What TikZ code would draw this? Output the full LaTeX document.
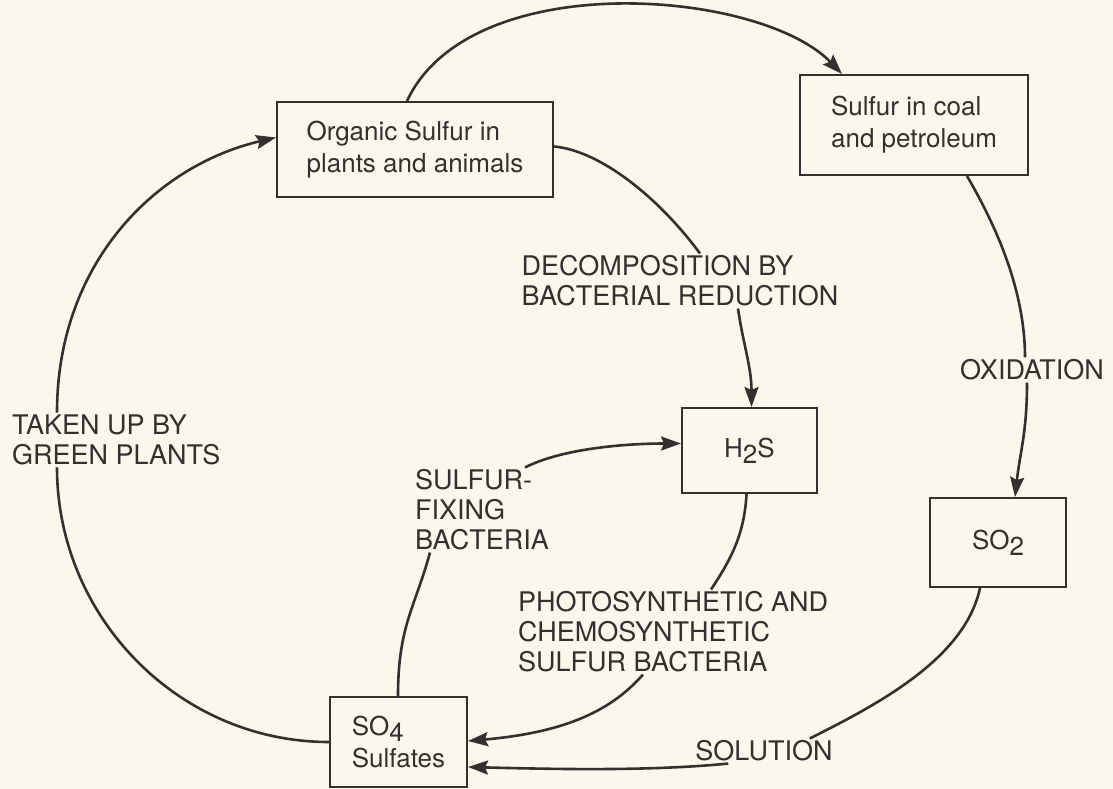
\documentclass[tikz,border=0pt]{standalone}
\usepackage{fontspec}
\setmainfont{TeX Gyre Heros}
\usetikzlibrary{arrows.meta}
\definecolor{paper}{RGB}{251,247,236}
\definecolor{ink}{RGB}{52,48,46}
\newcommand{\lowdigit}[1]{\raisebox{-0.45ex}{#1}}

\begin{document}
\begin{tikzpicture}[x=1pt,y=1pt,
  box/.style={draw=ink,line width=2pt,text=ink,font=\fontsize{26}{32}\selectfont,align=left,inner sep=0pt},
  tag/.style={text=ink,font=\fontsize{27}{30}\selectfont,align=left,inner sep=2pt},
  flow/.style={draw=ink,line width=2.6pt},
  into/.style={flow,-{Stealth[length=20pt,width=14pt,inset=3pt]}}]
\useasboundingbox (0,-789) rectangle (1113,0);
\path[fill=paper] (0,-789) rectangle (1113,0);
% compartments:
\node[box,minimum width=276,minimum height=95] (organic) at (415,-149.5) {Organic Sulfur in\\plants and animals};
\node[box,minimum width=228,minimum height=100] (coal) at (914,-125) {Sulfur in coal\\and petroleum};
\node[box,minimum width=135,minimum height=85] (h2s) at (749.5,-450.5) {H\lowdigit{2}S};
\node[box,minimum width=136,minimum height=89] (so2) at (998,-542.5) {SO\lowdigit{2}};
\node[box,minimum width=137,minimum height=90] (so4) at (398.5,-742) {SO\lowdigit{4}\\Sulfates};
% process labels:
\node[tag] (decomp) at (680,-281) {DECOMPOSITION BY\\BACTERIAL REDUCTION};
\node[tag] (oxid) at (1032,-370) {OXIDATION};
\node[tag,anchor=west] (taken) at (10,-440) {TAKEN UP BY\\GREEN PLANTS};
\node[tag,anchor=west] (fixing) at (413,-510) {SULFUR-\\FIXING\\BACTERIA};
\node[tag,anchor=west] (photo) at (516,-632) {PHOTOSYNTHETIC AND\\CHEMOSYNTHETIC\\SULFUR BACTERIA};
\node[tag] (solution) at (764,-751) {SOLUTION};
% flows:
\draw[into] ([xshift=-8pt]organic.north) .. controls +(63,135) and +(-82,85) .. ([xshift=-72pt]coal.north);
\draw[flow] ([yshift=3pt]organic.east) .. controls +(45,-4) and +(-43,58) .. ([xshift=20pt]decomp.north);
\draw[into] ([xshift=58pt]decomp.south) .. controls +(5,-35) and +(0,40) .. ([xshift=2pt]h2s.north);
\draw[flow] ([xshift=53pt]coal.south) .. controls +(35,-60) and +(0,60) .. ([xshift=-7pt]oxid.north);
\draw[into] ([xshift=-5pt]oxid.south) .. controls +(0,-50) and +(5,45) .. ([xshift=17pt]so2.north);
\draw[flow] ([xshift=-18pt]so2.south) .. controls +(-15,-70) and +(70,35) .. ([xshift=-25pt]solution.north east);
\draw[into] ([xshift=35pt]solution.south west) .. controls +(-80,-8) and +(80,-2) .. ([yshift=-25pt]so4.east);
\draw[flow] ([xshift=-3pt]h2s.south) .. controls +(-2,-40) and +(20,30) .. ([xshift=195pt]photo.north west);
\draw[into] ([xshift=127pt]photo.south west) .. controls +(-35,-40) and +(90,8) .. ([yshift=1pt]so4.east);
\draw[flow] ([xshift=-0.5pt]so4.north) .. controls +(0,70) and +(-15,-55) .. ([xshift=17pt]fixing.south west);
\draw[into] ([xshift=112pt]fixing.north west) .. controls +(35,18) and +(-60,0) .. ([yshift=7pt]h2s.west);
\draw[flow] (so4.west) .. controls +(-150,0) and +(0,-150) .. ([xshift=47pt]taken.south west);
\draw[into] ([xshift=47pt]taken.north west) .. controls +(0,150) and +(-120,-28) .. ([yshift=12pt]organic.west);
\end{tikzpicture}
\end{document}
